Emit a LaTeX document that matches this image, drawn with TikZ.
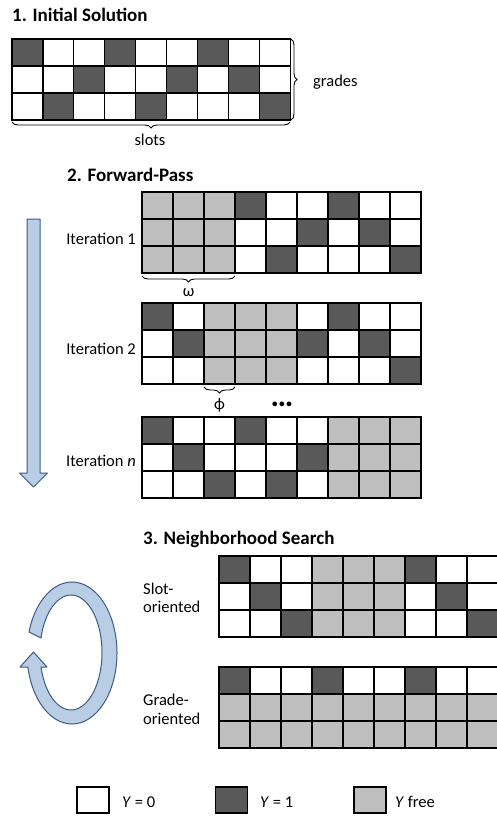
\documentclass[tikz,border=0pt]{standalone}
\usepackage{fontspec}
\setmainfont{Carlito}
\usetikzlibrary{decorations.pathreplacing}
\definecolor{celldark}{HTML}{595959}
\definecolor{celllight}{HTML}{BFBFBF}
\definecolor{arrowfill}{HTML}{B9CDE5}
\definecolor{arrowline}{HTML}{385D8A}
\newcommand{\gridrow}[4]{%
  \foreach \c [count=\i from 0] in {#4}{\draw[cell\c] ({#1+\i*#3},{#2}) rectangle +(#3,27);}}
\newcommand{\cellgrid}[6]{%
  \gridrow{#1}{#2}{#3}{#4}\gridrow{#1}{#2+27}{#3}{#5}\gridrow{#1}{#2+54}{#3}{#6}}
\begin{document}
\begin{tikzpicture}[x=1pt,y=-1pt,
  cellD/.style={draw=black,line width=1.2pt,fill=celldark},
  cellW/.style={draw=black,line width=1.2pt,fill=white},
  cellG/.style={draw=black,line width=1.2pt,fill=celllight},
  title/.style={font=\fontsize{19}{22}\selectfont\bfseries,anchor=base west,inner sep=0pt},
  lbl/.style={font=\fontsize{16.5}{19.5}\selectfont,inner sep=0pt},
  bracestyle/.style={decorate,decoration={brace,amplitude=6pt},draw=black,line width=0.9pt},
  legbox/.style={draw=black,line width=1.2pt,minimum width=32pt,minimum height=26pt,inner sep=0pt},
  blockarrow/.style={draw=arrowline,fill=arrowfill,line width=1pt,line join=round}]
\fill[white] (0,0) rectangle (496,816);
\useasboundingbox (0,0) rectangle (496,816);

% 1. Initial solution
\node[title] (t1) at (12,22) {1. Initial Solution};
\cellgrid{12}{39}{30.9}{D,W,W,D,W,W,D,W,W}{W,W,D,W,W,D,W,D,W}{W,D,W,W,D,W,W,W,D}
\coordinate (g1tr) at (291,39);
\coordinate (g1br) at (291,120);
\coordinate (g1bl) at (12,122);
\coordinate (g1bbr) at (290,122);
\draw[bracestyle] (g1tr) -- (g1br);
\draw[bracestyle] (g1bbr) -- (g1bl);
\node[lbl,anchor=base west] (grades) at (313,86) {grades};
\node[lbl,anchor=base] (slots) at (150,145) {slots};

% 2. Forward pass
\node[title] (t2) at (67,181.5) {2. Forward-Pass};
\cellgrid{142}{192}{31}{G,G,G,D,W,W,D,W,W}{G,G,G,W,W,D,W,D,W}{G,G,G,W,D,W,W,W,D}
\cellgrid{142}{303}{31}{D,W,G,G,G,W,D,W,W}{W,D,G,G,G,D,W,D,W}{W,W,G,G,G,W,W,W,D}
\cellgrid{142}{417}{31}{D,W,W,D,W,W,G,G,G}{W,D,W,W,W,D,G,G,G}{W,W,D,W,D,W,G,G,G}
\node[lbl,anchor=base east] (it1) at (136,244) {Iteration 1};
\node[lbl,anchor=base east] (it2) at (136,354) {Iteration 2};
\node[lbl,anchor=base east] (itn) at (136,466.5) {Iteration \textit{n}};
\coordinate (om1) at (235,276);
\coordinate (om0) at (142,276);
\draw[bracestyle] (om1) -- (om0);
\node[lbl,anchor=base] (omega) at (188.5,296) {ω};
\coordinate (ph1) at (235,387);
\coordinate (ph0) at (204,387);
\draw[bracestyle] (ph1) -- (ph0);
\node[lbl,anchor=base] (phi) at (219.5,409) {ϕ};
\node[inner sep=0pt,font=\fontsize{32}{32}\selectfont\bfseries] (dots) at (282,404) {…};
\draw[blockarrow] (27,219) -- (40,219) -- (40,473) -- (47.5,473) -- (33.5,487) -- (19.5,473) -- (27,473) -- cycle;

% 3. Neighborhood search
\node[title] (t3) at (143,544) {3. Neighborhood Search};
\cellgrid{219}{556}{31}{D,W,W,G,G,G,D,W,W}{W,D,W,G,G,G,W,D,W}{W,W,D,G,G,G,W,W,D}
\cellgrid{219}{667}{31}{D,W,W,D,W,W,D,W,W}{G,G,G,G,G,G,G,G,G}{G,G,G,G,G,G,G,G,G}
\node[lbl,anchor=base west] (slotA) at (143,594) {Slot-};
\node[lbl,anchor=base west] (slotB) at (143,612.5) {oriented};
\node[lbl,anchor=base west] (gradeA) at (143,705.5) {Grade-};
\node[lbl,anchor=base west] (gradeB) at (143,724) {oriented};
\draw[blockarrow] ([shift={(197.2:45 and 71)}]72,653) arc[start angle=197.2,end angle=528.6,x radius=45,y radius=71]
  -- (20,667) -- (33.5,652) -- (47,667)
  -- ([shift={(525.4:31 and 57.5)}]71,652.5) arc[start angle=525.4,end angle=194.6,x radius=31,y radius=57.5] -- cycle;

% legend
\node[legbox,fill=white] (lw) at (93,800) {};
\node[lbl,anchor=base west] (lwt) at (122,807) {\textit{Y} = 0};
\node[legbox,fill=celldark] (ld) at (231.5,800) {};
\node[lbl,anchor=base west] (ldt) at (260,807) {\textit{Y} = 1};
\node[legbox,fill=celllight] (lg) at (370,800) {};
\node[lbl,anchor=base west] (lgt) at (395,807) {\textit{Y} free};
\end{tikzpicture}
\end{document}
